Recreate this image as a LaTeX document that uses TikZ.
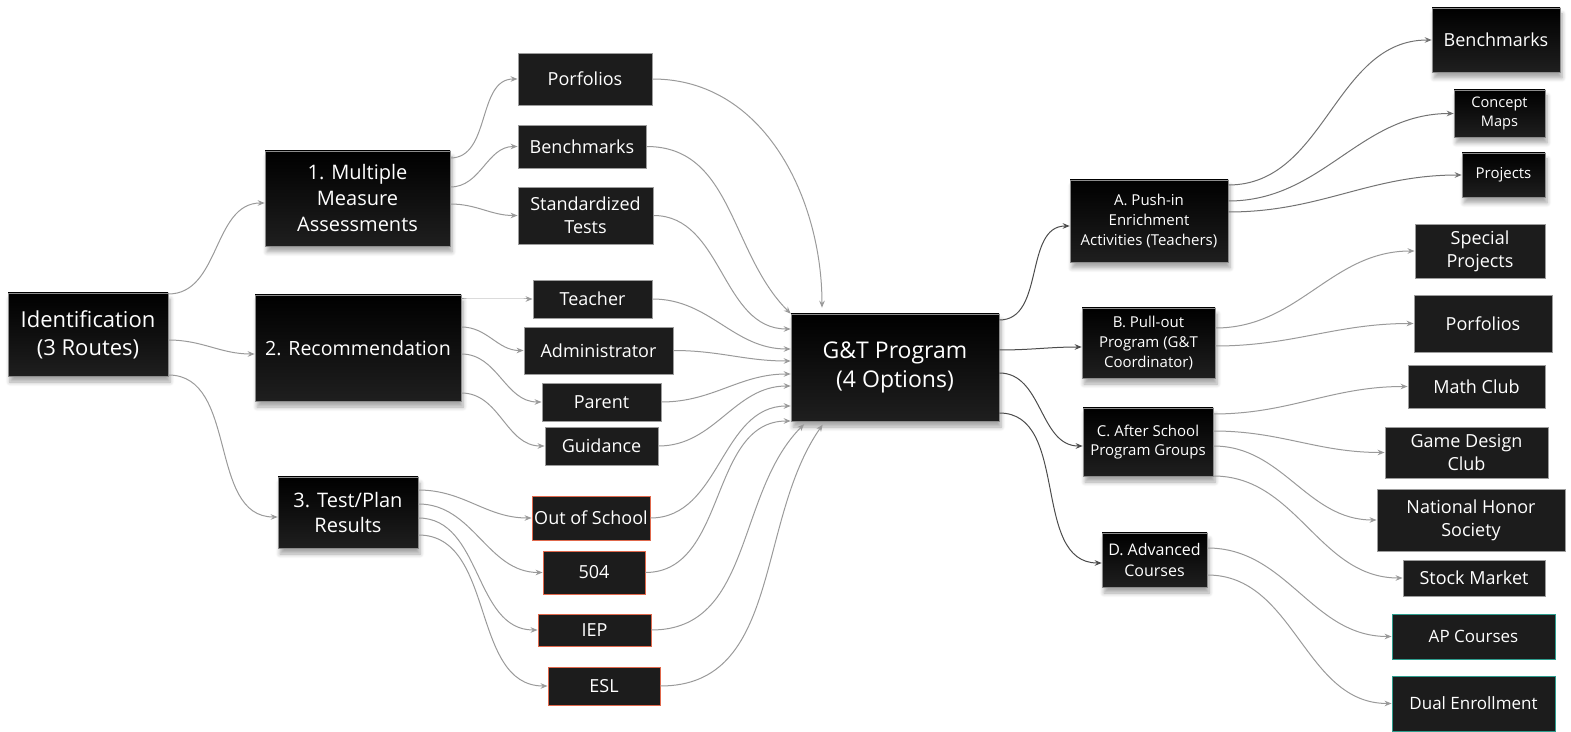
\documentclass[tikz,border=0pt]{standalone}
\usepackage{fontspec}
\setmainfont{Open Sans}
\usetikzlibrary{arrows.meta,shadows.blur}
\definecolor{boxfill}{HTML}{1C1C1C}
\definecolor{boxline}{HTML}{9C9C9C}
\definecolor{linkgray}{HTML}{9A9A9A}
\definecolor{plandraw}{HTML}{E0684C}
\definecolor{coursedraw}{HTML}{2E9D8E}
\begin{document}
\begin{tikzpicture}[x=0.5pt,y=-0.5pt,
    sz/.style 2 args={minimum width=#1*0.5pt,minimum height=#2*0.5pt},
    hub/.style={text=white,align=center,inner sep=0pt,top color=black,bottom color=black!88,
      draw=black!45,line width=0.3pt,
      blur shadow={shadow xshift=1pt,shadow yshift=-3pt,shadow blur steps=6,shadow opacity=35}},
    leaf/.style={text=white,align=center,inner sep=0pt,fill=boxfill,draw=boxline,line width=0.45pt,
      font=\fontsize{9}{11.5}\selectfont},
    plan/.style={draw=plandraw},
    course/.style={draw=coursedraw},
    link/.style={draw=linkgray,line width=0.5pt,-{Stealth[length=3.5pt,width=2.8pt]}},
    optlink/.style={link,draw=black!70},
    sublink/.style={link,draw=black!55}]
  \useasboundingbox (0,0) rectangle (1571,732);

  \node[hub,sz={160}{83},font=\fontsize{11}{14}\selectfont] (id) at (88,334.5) {Identification\\(3 Routes)};
  \node[hub,sz={185}{95},font=\fontsize{10}{13}\selectfont] (mma) at (357.5,198.5) {1. Multiple\\Measure\\Assessments};
  \node[hub,sz={206}{106},font=\fontsize{9.8}{13}\selectfont] (rec) at (358,348) {2. Recommendation};
  \node[hub,sz={140}{71},font=\fontsize{10}{12.5}\selectfont] (tpr) at (348,512.5) {3. Test/Plan\\Results};

  \node[leaf,sz={134}{52}] (pf1) at (585,79) {Porfolios};
  \node[leaf,sz={128}{43}] (bm1) at (582,146.5) {Benchmarks};
  \node[leaf,sz={135}{57}] (st) at (585.5,215.5) {Standardized\\Tests};
  \node[leaf,sz={119}{38}] (tch) at (592.5,299) {Teacher};
  \node[leaf,sz={149}{47}] (adm) at (598.5,350.5) {Administrator};
  \node[leaf,sz={119}{38}] (par) at (601.5,402) {Parent};
  \node[leaf,sz={113}{38}] (gui) at (601.5,446) {Guidance};
  \node[leaf,plan,sz={118}{44}] (oos) at (591,518) {Out of School};
  \node[leaf,plan,sz={102}{43}] (s504) at (594,572.5) {504};
  \node[leaf,plan,sz={113}{32}] (iep) at (594.5,630) {IEP};
  \node[leaf,plan,sz={112}{38}] (esl) at (604,686) {ESL};

  \node[hub,sz={208}{107},font=\fontsize{11.5}{14.5}\selectfont] (gt) at (895,367.5) {G\&T Program\\(4 Options)};

  \node[hub,sz={158}{82},font=\fontsize{7.5}{9.8}\selectfont] (pa) at (1149,221) {A. Push-in\\Enrichment\\Activities (Teachers)};
  \node[hub,sz={133}{70},font=\fontsize{7.5}{9.8}\selectfont] (pb) at (1148.5,343) {B. Pull-out\\Program (G\&T\\Coordinator)};
  \node[hub,sz={130}{68},font=\fontsize{7.5}{9.8}\selectfont] (pc) at (1148,442) {C. After School\\Program Groups};
  \node[hub,sz={105}{54},font=\fontsize{8}{10.5}\selectfont] (pd) at (1154.5,560) {D. Advanced\\Courses};

  \node[hub,sz={128}{64},font=\fontsize{9}{11}\selectfont] (bm2) at (1496,40) {Benchmarks};
  \node[hub,sz={91}{47},font=\fontsize{7.3}{9.8}\selectfont] (cm) at (1499.5,113.5) {Concept\\Maps};
  \node[hub,sz={83}{44},font=\fontsize{7.5}{9}\selectfont] (prj) at (1503.5,175) {Projects};
  \node[leaf,sz={130}{54}] (sp) at (1480,251) {Special\\Projects};
  \node[leaf,sz={138}{57}] (pf2) at (1483,323.5) {Porfolios};
  \node[leaf,sz={137}{43}] (mc) at (1476.5,386.5) {Math Club};
  \node[leaf,sz={163}{51}] (gd) at (1466.5,452.5) {Game Design\\Club};
  \node[leaf,sz={188}{62}] (nhs) at (1471,520) {National Honor\\Society};
  \node[leaf,sz={142}{36}] (sm) at (1474,578) {Stock Market};
  \node[leaf,course,sz={163}{45},font=\fontsize{8.5}{11}\selectfont] (ap) at (1473.5,636.5) {AP Courses};
  \node[leaf,course,sz={163}{55},font=\fontsize{8.5}{11}\selectfont] (de) at (1473.5,703.5) {Dual Enrollment};

  \draw[link] (id.east |- 0,294) to[out=0,in=180] (mma.west |- 0,203);
  \draw[link] (id.east |- 0,340) to[out=0,in=180] (rec.west |- 0,354);
  \draw[link] (id.east |- 0,375) to[out=0,in=180] (tpr.west |- 0,517);

  \draw[link] (mma.east |- 0,158) to[out=0,in=180] (pf1.west);
  \draw[link] (mma.east |- 0,187) to[out=0,in=180] (bm1.west);
  \draw[link] (mma.east |- 0,204) to[out=0,in=180] (st.west);
  \draw[link] (rec.east |- 0,299) to[out=0,in=180] (tch.west);
  \draw[link] (rec.east |- 0,327) to[out=0,in=180] (adm.west);
  \draw[link] (rec.east |- 0,354) to[out=0,in=180] (par.west);
  \draw[link] (rec.east |- 0,393) to[out=0,in=180] (gui.west);
  \draw[link] (tpr.east |- 0,490) to[out=0,in=180] (oos.west);
  \draw[link] (tpr.east |- 0,504) to[out=0,in=180] (s504.west);
  \draw[link] (tpr.east |- 0,518) to[out=0,in=180] (iep.west);
  \draw[link] (tpr.east |- 0,535) to[out=0,in=180] (esl.west);

  \draw[link,shorten >=3pt] (pf1.east) to[out=0,in=90] (822,0 |- gt.north);
  \draw[link] (bm1.east) to[out=0,in=135] (gt.north west);
  \draw[link] (st.east) to[out=0,in=180] (gt.west |- 0,329);
  \draw[link] (tch.east) to[out=0,in=180] (gt.west |- 0,349);
  \draw[link] (adm.east) to[out=0,in=180] (gt.west |- 0,361);
  \draw[link] (par.east) to[out=0,in=180] (gt.west |- 0,374);
  \draw[link] (gui.east) to[out=0,in=180] (gt.west |- 0,386);
  \draw[link] (oos.east) to[out=0,in=180] (gt.west |- 0,406);
  \draw[link] (s504.east) to[out=0,in=180] (gt.west |- 0,421);
  \draw[link,shorten >=2pt] (iep.east) to[out=0,in=225] (807,0 |- gt.south);
  \draw[link,shorten >=2pt] (esl.east) to[out=0,in=235] (825,0 |- gt.south);

  \draw[optlink] (gt.east |- 0,320) to[out=0,in=180] (pa.west |- 0,226);
  \draw[optlink] (gt.east |- 0,350) to[out=0,in=180] (pb.west |- 0,347);
  \draw[optlink] (gt.east |- 0,373) to[out=0,in=180] (pc.west |- 0,446);
  \draw[optlink] (gt.east |- 0,413) to[out=0,in=180] (pd.west |- 0,563);

  \draw[sublink] (pa.east |- 0,185) to[out=0,in=180] (bm2.west);
  \draw[sublink] (pa.east |- 0,201) to[out=0,in=180] (cm.west);
  \draw[sublink] (pa.east |- 0,212) to[out=0,in=180] (prj.west);
  \draw[link] (pb.east |- 0,328) to[out=0,in=180] (sp.west);
  \draw[link] (pb.east |- 0,346) to[out=0,in=180] (pf2.west);
  \draw[link] (pc.east |- 0,414) to[out=0,in=180] (mc.west);
  \draw[link] (pc.east |- 0,431) to[out=0,in=180] (gd.west);
  \draw[link] (pc.east |- 0,446) to[out=0,in=180] (nhs.west);
  \draw[link] (pc.east |- 0,476) to[out=0,in=180] (sm.west);
  \draw[link] (pd.east |- 0,548) to[out=0,in=180] (ap.west);
  \draw[link] (pd.east |- 0,575) to[out=0,in=180] (de.west);
\end{tikzpicture}
\end{document}
